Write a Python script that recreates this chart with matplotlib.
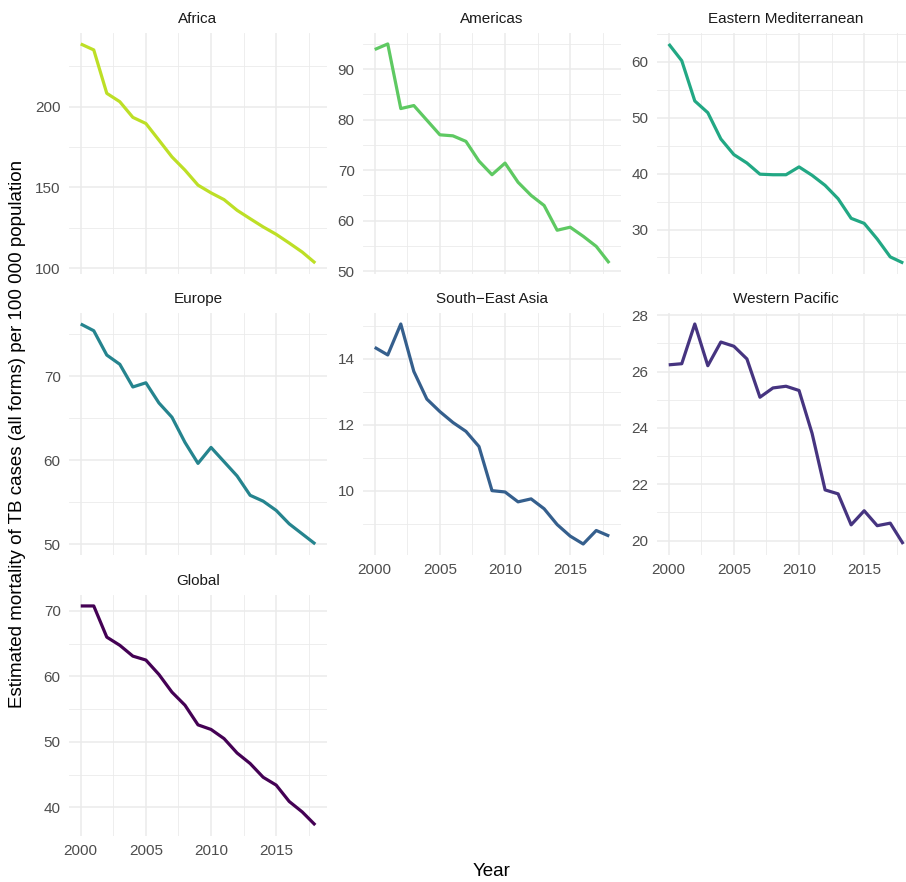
import matplotlib
matplotlib.use("Agg")
import matplotlib.pyplot as plt
from matplotlib.ticker import MultipleLocator
import numpy as np

plt.rcParams['font.family'] = ['Liberation Sans', 'DejaVu Sans']

years = list(range(2000, 2019))

africa = [238.9, 235.2, 208.3, 203.1, 193.4, 189.6, 179.3, 168.9, 160.7, 151.4,
          146.6, 142.4, 135.8, 130.6, 125.5, 120.9, 115.5, 109.9, 103.1]
americas = [93.9, 95.0, 82.2, 82.8, 79.9, 77.0, 76.8, 75.7, 71.8, 69.1,
            71.4, 67.6, 65.0, 63.0, 58.1, 58.7, 56.9, 54.9, 51.6]
east_med = [63.2, 60.2, 53.0, 50.9, 46.2, 43.4, 41.9, 39.9, 39.8, 39.8,
            41.2, 39.7, 37.9, 35.5, 32.0, 31.1, 28.3, 25.1, 24.0]
europe = [76.2, 75.4, 72.5, 71.4, 68.7, 69.2, 66.8, 65.1, 62.1, 59.6,
          61.5, 59.8, 58.1, 55.8, 55.1, 54.0, 52.4, 51.2, 50.0]
se_asia = [14.35, 14.12, 15.06, 13.62, 12.78, 12.40, 12.07, 11.80, 11.34, 10.00,
           9.96, 9.66, 9.75, 9.45, 8.97, 8.62, 8.38, 8.79, 8.62]
w_pacific = [26.24, 26.28, 27.69, 26.21, 27.05, 26.90, 26.45, 25.09, 25.42, 25.48,
             25.33, 23.81, 21.80, 21.66, 20.56, 21.06, 20.53, 20.62, 19.88]
global_ = [70.76, 70.76, 66.0, 64.75, 63.1, 62.5, 60.3, 57.6, 55.6, 52.6,
           51.9, 50.5, 48.3, 46.7, 44.6, 43.4, 40.9, 39.3, 37.3]

regions = ["Africa", "Americas", "Eastern Mediterranean", "Europe",
           "South\u2212East Asia", "Western Pacific", "Global"]
series = [africa, americas, east_med, europe, se_asia, w_pacific, global_]

# viridis, Global darkest -> Africa lightest
shade = [0.9, 0.75, 0.6, 0.45, 0.3, 0.15, 0.0]
colors = [plt.cm.viridis(s) for s in shade]

# major y-tick step per facet
steps = [50, 10, 10, 10, 2, 2, 10]

W, H = 906, 882
col_left = [69, 363, 657]
pw = 258
rows = [(33, 274), (313, 555), (595, 836)]

fig = plt.figure(figsize=(W / 100, H / 100), dpi=100)
fig.patch.set_facecolor("white")

for i, (name, vals) in enumerate(zip(regions, series)):
    r, c = divmod(i, 3)
    top, bot = rows[r]
    ax = fig.add_axes([col_left[c] / W, 1 - bot / H, pw / W, (bot - top) / H])
    ax.plot(years, vals, color=colors[i], lw=2.3, solid_capstyle='butt', zorder=3)

    x0, x1 = min(years), max(years)
    ex = (x1 - x0) * 0.05
    ax.set_xlim(x0 - ex, x1 + ex)
    lo, hi = min(vals), max(vals)
    ey = (hi - lo) * 0.05
    ax.set_ylim(lo - ey, hi + ey)

    ax.xaxis.set_major_locator(MultipleLocator(5))
    ax.xaxis.set_minor_locator(MultipleLocator(2.5))
    ax.yaxis.set_major_locator(MultipleLocator(steps[i]))
    ax.yaxis.set_minor_locator(MultipleLocator(steps[i] / 2))

    ax.grid(which='major', color='#EBEBEB', lw=1.1)
    ax.grid(which='minor', color='#EBEBEB', lw=0.6)
    ax.set_axisbelow(True)
    for sp in ax.spines.values():
        sp.set_visible(False)
    ax.tick_params(which='both', length=0, labelsize=11, colors='#4D4D4D')
    ax.tick_params(axis='y', pad=6)
    ax.tick_params(axis='x', pad=6)

    bottom_of_col = (i == 6) or (i in (4, 5))
    if not bottom_of_col:
        ax.tick_params(axis='x', labelbottom=False)

    ax.set_title(name, fontsize=11, color='#1A1A1A', pad=7)

fig.text(492 / W, 1 - 872 / H, "Year", ha='center', va='center', fontsize=13.5)
fig.text(18 / W, 1 - 434 / H,
         "Estimated mortality of TB cases (all forms) per 100 000 population",
         ha='center', va='center', rotation=90, fontsize=13.5)

fig.savefig("out.png", dpi=100)
